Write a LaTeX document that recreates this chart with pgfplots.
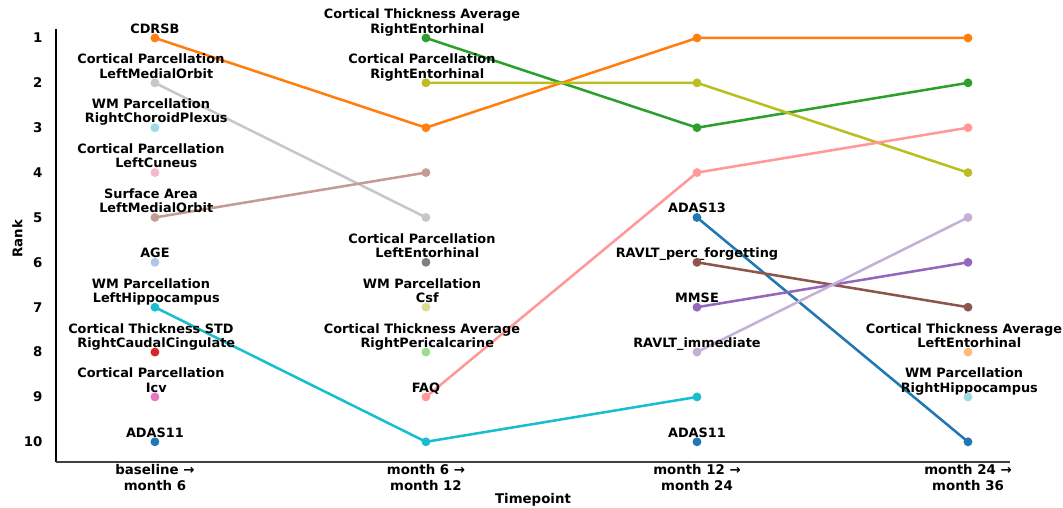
\documentclass[border=0pt]{standalone}
\usepackage{fontspec}
\setmainfont{DejaVu Sans}
\usepackage{pgfplots}
\pgfplotsset{compat=1.18}

% tab20-like colours
\definecolor{cOrange}{HTML}{FF7F0E}
\definecolor{cGrayL}{HTML}{C7C7C7}
\definecolor{cCyanL}{HTML}{9EDAE5}
\definecolor{cPinkL}{HTML}{F7B6D2}
\definecolor{cBrownL}{HTML}{C49C94}
\definecolor{cBlueL}{HTML}{AEC7E8}
\definecolor{cCyan}{HTML}{17BECF}
\definecolor{cRed}{HTML}{D62728}
\definecolor{cPink}{HTML}{E377C2}
\definecolor{cBlue}{HTML}{1F77B4}
\definecolor{cGreen}{HTML}{2CA02C}
\definecolor{cOlive}{HTML}{BCBD22}
\definecolor{cGray}{HTML}{7F7F7F}
\definecolor{cOliveL}{HTML}{DBDB8D}
\definecolor{cGreenL}{HTML}{98DF8A}
\definecolor{cRedL}{HTML}{FF9896}
\definecolor{cBrown}{HTML}{8C564B}
\definecolor{cPurple}{HTML}{9467BD}
\definecolor{cPurpleL}{HTML}{C5B0D5}
\definecolor{cOrangeL}{HTML}{FFBB78}

\renewcommand{\arraystretch}{0.92}
% one-line label
\newcommand{\lab}[3]{\node[anchor=base, inner sep=0pt, font=\fontsize{9.65}{11.6}\selectfont\bfseries]
  at ([yshift=3.6pt]axis cs:#1,#2) {\begin{tabular}[b]{@{}c@{}}#3\end{tabular}};}
% two-line label (first line sits a little to the left, as in the original)
\newcommand{\labb}[4]{\node[anchor=base, inner sep=0pt, xshift=1pt, font=\fontsize{9.65}{11.6}\selectfont\bfseries]
  at ([yshift=3.6pt]axis cs:#1,#2) {\begin{tabular}[b]{@{}c@{}}#3\hspace*{8pt}\\#4\end{tabular}};}

\begin{document}
\begin{tikzpicture}
  \begin{axis}[
    width=715.5pt, height=324.75pt, scale only axis,
    xmin=-0.365, xmax=3.155, ymin=0.8, ymax=10.45,
    y dir=reverse,
    clip=false,
    axis line style={draw=none},
    tick style={draw=none},
    major tick length=0pt,
    xtick={0,1,2,3},
    xticklabels={{baseline →\\month 6}, {month 6 →\\month 12},
      {month 12 →\\month 24}, {month 24 →\\month 36}},
    xticklabel style={align=center, font=\bfseries, inner sep=0pt, yshift=-1.8pt},
    ytick={1,2,...,10},
    yticklabel style={font=\bfseries, inner sep=0pt, xshift=-10pt},
    /pgf/number format/assume math mode=true,
    xlabel={Timepoint}, ylabel={Rank},
    label style={font=\bfseries},
    xlabel style={at={(axis description cs:0.5,0)}, anchor=center, yshift=-28pt},
    ylabel style={at={(axis description cs:0,0.5)}, anchor=center, yshift=29pt, xshift=5pt},
    every axis plot/.append style={line width=1.9pt, mark=*, mark size=2.3pt},
    ]
    \coordinate (ll) at (axis cs:-0.365,10.45);
    \coordinate (ur) at (axis cs:3.155,0.8);
    \draw[black, line width=0.8pt] (axis cs:-0.365,0.8) -- (axis cs:-0.365,10.45);
    \draw[black!75, line width=0.8pt] (axis cs:-0.365,10.45) -- (axis cs:3.155,10.45);

    % baseline -> month 6
    \addplot[cOrange] coordinates {(0,1) (1,3) (2,1) (3,1)};            % CDRSB
    \addplot[cGrayL] coordinates {(0,2) (1,5)};                         % CP LeftMedialOrbit
    \addplot[cCyanL, only marks] coordinates {(0,3)};                   % WM RightChoroidPlexus
    \addplot[cPinkL, only marks] coordinates {(0,4)};                   % CP LeftCuneus
    \addplot[cBrownL] coordinates {(0,5) (1,4)};                        % SA LeftMedialOrbit
    \addplot[cBlueL, only marks] coordinates {(0,6)};                   % AGE
    \addplot[cCyan] coordinates {(0,7) (1,10) (2,9)};                   % WM LeftHippocampus
    \addplot[cRed, only marks] coordinates {(0,8)};                     % CT STD
    \addplot[cPink, only marks] coordinates {(0,9)};                    % CP Icv
    \addplot[cBlue, only marks] coordinates {(0,10)};                   % ADAS11
    % month 6 -> month 12
    \addplot[cGreen] coordinates {(1,1) (2,3) (3,2)};                   % CTA RightEntorhinal
    \addplot[cOlive] coordinates {(1,2) (2,2) (3,4)};                   % CP RightEntorhinal
    \addplot[cGray, only marks] coordinates {(1,6)};                    % CP LeftEntorhinal
    \addplot[cOliveL, only marks] coordinates {(1,7)};                  % WM Csf
    \addplot[cGreenL, only marks] coordinates {(1,8)};                  % CTA RightPericalcarine
    \addplot[cRedL] coordinates {(1,9) (2,4) (3,3)};                    % FAQ
    % month 12 -> month 24
    \addplot[cBlue] coordinates {(2,5) (3,10)};                         % ADAS13
    \addplot[cBrown] coordinates {(2,6) (3,7)};                         % RAVLT_perc_forgetting
    \addplot[cPurple] coordinates {(2,7) (3,6)};                        % MMSE
    \addplot[cPurpleL] coordinates {(2,8) (3,5)};                       % RAVLT_immediate
    \addplot[cBlue, only marks] coordinates {(2,10)};                   % ADAS11
    % month 24 -> month 36
    \addplot[cOrangeL, only marks] coordinates {(3,8)};                 % CTA LeftEntorhinal
    \addplot[cCyanL, only marks] coordinates {(3,9)};                   % WM RightHippocampus

    \lab{0}{1}{CDRSB}
    \labb{0}{2}{Cortical Parcellation}{LeftMedialOrbit}
    \labb{0}{3}{WM Parcellation}{RightChoroidPlexus}
    \labb{0}{4}{Cortical Parcellation}{LeftCuneus}
    \labb{0}{5}{Surface Area}{LeftMedialOrbit}
    \lab{0}{6}{AGE}
    \labb{0}{7}{WM Parcellation}{LeftHippocampus}
    \labb{0}{8}{Cortical Thickness STD}{RightCaudalCingulate}
    \labb{0}{9}{Cortical Parcellation}{Icv}
    \lab{0}{10}{ADAS11}
    \labb{1}{1}{Cortical Thickness Average}{RightEntorhinal}
    \labb{1}{2}{Cortical Parcellation}{RightEntorhinal}
    \labb{1}{6}{Cortical Parcellation}{LeftEntorhinal}
    \labb{1}{7}{WM Parcellation}{Csf}
    \labb{1}{8}{Cortical Thickness Average}{RightPericalcarine}
    \lab{1}{9}{FAQ}
    \lab{2}{5}{ADAS13}
    \lab{2}{6}{RAVLT\_perc\_forgetting}
    \lab{2}{7}{MMSE}
    \lab{2}{8}{RAVLT\_immediate}
    \lab{2}{10}{ADAS11}
    \labb{3}{8}{Cortical Thickness Average}{LeftEntorhinal}
    \labb{3}{9}{WM Parcellation}{RightHippocampus}
  \end{axis}
  \pgfresetboundingbox
  \path[use as bounding box] ([xshift=-42pt,yshift=-33.75pt]ll) rectangle ([xshift=39.75pt,yshift=21.75pt]ur);
\end{tikzpicture}
\end{document}
